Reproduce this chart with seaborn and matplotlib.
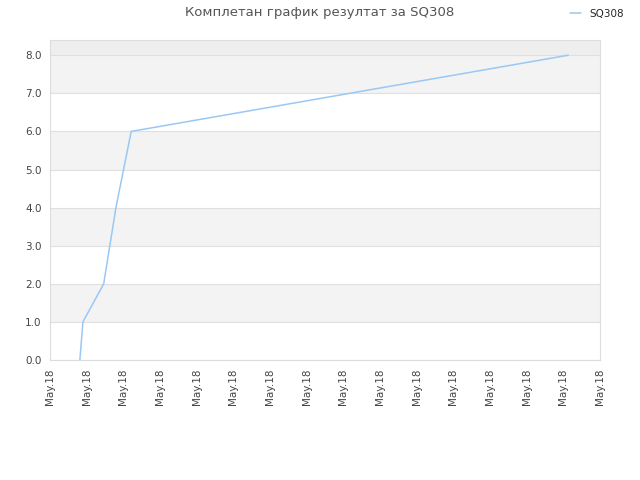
import pandas as pd
import matplotlib
matplotlib.use("Agg")
import matplotlib.pyplot as plt
import matplotlib.dates as mdates
import seaborn as sns

# =============================
# DATA
# =============================
start = pd.Timestamp("2018-05-18 00:00")
minutes = [49, 54, 88, 108, 133, 848]      # minutes after start
results = [0.0, 1.0, 2.0, 4.0, 6.0, 8.0]
series_name = "SQ308"
title = "Комплетан график резултат за SQ308"

df = pd.DataFrame({
    "time": [start + pd.Timedelta(minutes=m) for m in minutes],
    "result": results,
})

# =============================
# PLOT
# =============================
sns.set_style("white")
plt.rcParams["font.family"] = ["DejaVu Sans"]

fig = plt.figure(figsize=(6.4, 4.8), dpi=100)
ax = fig.add_axes([0.078, 0.25, 0.8595, 0.6667])

ymax = 8.4
for lo in range(1, 8, 2):
    ax.axhspan(lo, lo + 1, color="#f3f3f3", zorder=0, lw=0)
ax.axhspan(8, ymax, color="#eeeeee", zorder=0, lw=0)
for y in range(0, 9):
    ax.axhline(y, color="#e0e0e0", lw=0.8, zorder=1)

sns.lineplot(data=df, x="time", y="result", ax=ax, color="#99c8f5",
             lw=1.1, label=series_name, zorder=3)

ax.set_xlim(start, start + pd.Timedelta(hours=15))
ax.set_ylim(0, ymax)
ax.xaxis.set_major_locator(mdates.HourLocator(interval=1))
ax.xaxis.set_major_formatter(mdates.DateFormatter("%b.%y"))
ax.set_yticks(range(0, 9))
ax.set_yticklabels([f"{v:.1f}" for v in range(0, 9)])
ax.tick_params(axis="x", rotation=90, labelsize=7.5, colors="#444444", length=0, pad=6)
ax.tick_params(axis="y", labelsize=7.5, colors="#444444", length=0, pad=6)
ax.set_xlabel("")
ax.set_ylabel("")

for s in ax.spines.values():
    s.set_color("#dddddd")
    s.set_linewidth(0.8)

fig.suptitle(title, x=0.5, y=0.988, fontsize=9.5, color="#555555")

leg = ax.legend(loc="upper right", bbox_to_anchor=(1.060, 1.127), frameon=False,
                fontsize=7.5, handlelength=1.0, handletextpad=0.8)

fig.savefig("out.png", dpi=100)
